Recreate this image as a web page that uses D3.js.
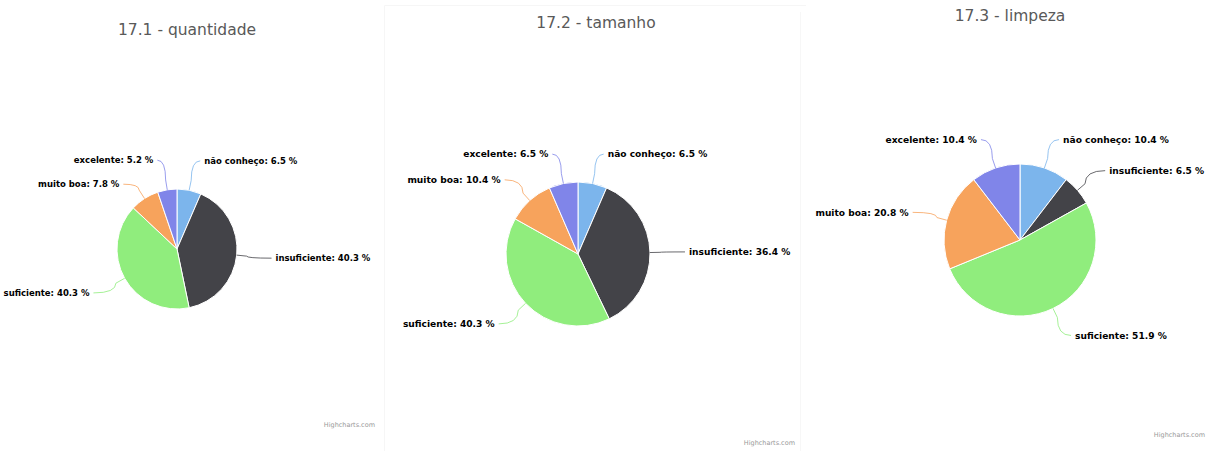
<!DOCTYPE html>
<html>
<head>
<meta charset="utf-8">
<script src="https://cdn.jsdelivr.net/npm/d3@7/dist/d3.min.js"></script>
<style>
  html, body { margin: 0; padding: 0; background: #fff; }
  svg { display: block; }
</style>
</head>
<body>
<svg id="chart" width="1213" height="451"></svg>
<script>
// ---- data ----
const categories = ["não conheço", "insuficiente", "suficiente", "muito boa", "excelente"];
const titles = ["17.1 - quantidade", "17.2 - tamanho", "17.3 - limpeza"];
const values_171 = [6.5, 40.3, 40.3, 7.8, 5.2];
const values_172 = [6.5, 36.4, 40.3, 10.4, 6.5];
const values_173 = [10.4, 6.5, 51.9, 20.8, 10.4];
const colors = ["#7cb5ec", "#434348", "#90ed7d", "#f7a35c", "#8085e9"];
const creditText = "Highcharts.com";

// ---- layout (per panel of the collage) ----
const panels = [
  { values: values_171, cx: 177, cy: 249, r: 60, font: 8.5, titleX: 187, titleY: 35, titleSize: 15.5, creditX: 375, creditY: 427 },
  { values: values_172, cx: 578, cy: 254, r: 72, font: 9.1, titleX: 596, titleY: 28, titleSize: 15.5, creditX: 795, creditY: 445 },
  { values: values_173, cx: 1020, cy: 240, r: 76, font: 9.1, titleX: 1010, titleY: 21, titleSize: 15.5, creditX: 1205, creditY: 437 }
];

const svg = d3.select("#chart");

// faint panel frames of the screenshot collage
svg.append("path").attr("d", "M384.5,451 V5.5 H806").attr("fill", "none").attr("stroke", "#f6f6f6");
svg.append("path").attr("d", "M800.5,451 V12").attr("fill", "none").attr("stroke", "#f7f7f7");

const pie = d3.pie().sort(null).value(d => d).startAngle(0).endAngle(2 * Math.PI);

panels.forEach((p, pi) => {
  const g = svg.append("g");
  const arcs = pie(p.values);
  const arc = d3.arc().innerRadius(0).outerRadius(p.r);

  // title
  g.append("text")
    .attr("x", p.titleX).attr("y", p.titleY)
    .attr("text-anchor", "middle")
    .attr("font-family", "'DejaVu Sans', Verdana, sans-serif")
    .attr("font-size", p.titleSize)
    .attr("fill", "#595959")
    .text(titles[pi]);

  // slices
  const pieG = g.append("g").attr("transform", `translate(${p.cx},${p.cy})`);
  pieG.selectAll("path")
    .data(arcs)
    .join("path")
    .attr("d", arc)
    .attr("fill", (d, i) => colors[i])
    .attr("stroke", "#ffffff")
    .attr("stroke-width", 1)
    .attr("stroke-linejoin", "round");

  // label layout (Highcharts-like)
  const dist = 30;
  const R = p.r + dist;
  const labels = arcs.map((d, i) => {
    const a = (d.startAngle + d.endAngle) / 2;
    const side = Math.sin(a) >= 0 ? 1 : -1;
    return { i, a, side, y: p.cy - Math.cos(a) * R };
  });
  const minGap = 24 * p.font / 8.5;
  [1, -1].forEach(side => {
    const list = labels.filter(l => l.side === side).sort((a, b) => a.y - b.y);
    for (let k = 1; k < list.length; k++) {
      if (list[k].y - list[k - 1].y < minGap) list[k].y = list[k - 1].y + minGap;
    }
  });
  const pad = 9;
  labels.forEach(l => {
    l.x = p.cx + Math.sin(l.a) * R + l.side * pad;
  });

  // connectors
  labels.forEach(l => {
    const ex = p.cx + Math.sin(l.a) * p.r, ey = p.cy - Math.cos(l.a) * p.r;
    const bx = p.cx + Math.sin(l.a) * (p.r + 10), by = p.cy - Math.cos(l.a) * (p.r + 10);
    const sx = l.x - l.side * 4, sy = l.y;
    const path = d3.path();
    path.moveTo(sx, sy);
    path.quadraticCurveTo(bx, sy, bx, by);
    path.lineTo(ex, ey);
    g.append("path")
      .attr("d", path.toString())
      .attr("fill", "none")
      .attr("stroke", colors[l.i])
      .attr("stroke-width", 1)
      .attr("opacity", 0.8);
  });

  // labels
  g.selectAll("text.lbl")
    .data(labels)
    .join("text")
    .attr("class", "lbl")
    .attr("x", d => d.x)
    .attr("y", d => d.y)
    .attr("dy", "0.35em")
    .attr("text-anchor", d => d.side > 0 ? "start" : "end")
    .attr("font-family", "'DejaVu Sans', Verdana, sans-serif")
    .attr("font-weight", "bold")
    .attr("font-size", p.font)
    .attr("fill", "#000000")
    .attr("stroke", "#ffffff")
    .attr("stroke-width", 2)
    .attr("paint-order", "stroke")
    .text(d => `${categories[d.i]}: ${d3.format(".1f")(p.values[d.i])} %`);

  // credit
  g.append("text")
    .attr("x", p.creditX).attr("y", p.creditY)
    .attr("text-anchor", "end")
    .attr("font-family", "'DejaVu Sans', Verdana, sans-serif")
    .attr("font-size", 6.5)
    .attr("fill", "#999999")
    .text(creditText);
});
</script>
</body>
</html>
